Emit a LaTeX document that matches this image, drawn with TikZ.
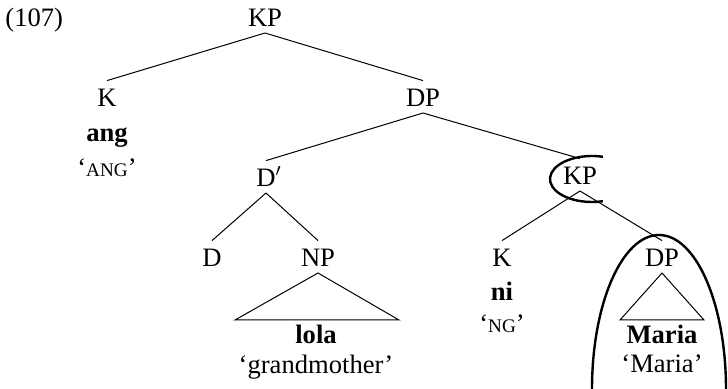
\documentclass[tikz,border=0pt]{standalone}
\usepackage{fontspec}
\setmainfont{Liberation Serif}
\newcommand{\glosscap}[1]{{\fontsize{9.6pt}{11pt}\selectfont #1}}
\tikzset{
  cat/.style={anchor=base, inner xsep=0pt, inner ysep=2.8pt, text height=10.2pt, text depth=0pt},
  word/.style={anchor=base, inner sep=0pt, font=\bfseries},
  gloss/.style={anchor=base, inner sep=0pt},
  branch/.style={line width=0.5pt},
  ring/.style={line width=1.2pt},
}
\begin{document}
\fontsize{13.3pt}{16pt}\selectfont
\begin{tikzpicture}[x=0.5pt,y=-0.5pt]
  \useasboundingbox (0,0) rectangle (728,389);
  \node[gloss, anchor=base west] (num) at (5,27) {(107)};
  % categories
  \node[cat] (kp) at (265,27) {KP};
  \node[cat] (k1) at (107,107) {K};
  \node[cat] (dp) at (423,107) {DP};
  \node[cat] (dbar) at (266,187) {D\rlap{$'$}};
  \node[cat] (kp2) at (580,185) {KP};
  \node[cat] (d) at (212,267) {D};
  \node[cat] (np) at (318,267) {NP};
  \node[cat] (k2) at (502,267) {K};
  \node[cat] (dp2) at (662,267) {DP};
  % words and glosses
  \node[word] (ang) at (107,142) {ang};
  \node[gloss] (angg) at (107,177) {`\glosscap{ANG}'};
  \node[word] (ni) at (502,301) {ni};
  \node[gloss] (nig) at (502,333) {`\glosscap{NG}'};
  \node[word] (lola) at (316,344) {lola};
  \node[gloss] (lolag) at (316,374) {`grandmother'};
  \node[word] (maria) at (662,344) {Maria};
  \node[gloss] (mariag) at (662,373) {`Maria'};
  % branches
  \draw[branch] (kp.south) -- (k1.north);
  \draw[branch] (kp.south) -- (dp.north);
  \draw[branch] (dp.south) -- (dbar.north);
  \draw[branch] (dp.south) -- (kp2.north);
  \draw[branch] (dbar.south) -- (d.north);
  \draw[branch] (dbar.south) -- (np.north);
  \draw[branch] (kp2.south) -- (k2.north);
  \draw[branch] (kp2.south) -- (dp2.north);
  % triangles
  \coordinate (npl) at (235,320);
  \coordinate (npr) at (399,320);
  \draw[branch] (np.south) -- (npl) -- (npr) -- cycle;
  \coordinate (dpl) at (620,320);
  \coordinate (dpr) at (704,320);
  \draw[branch] (dp2.south) -- (dpl) -- (dpr) -- cycle;
  % rings
  \coordinate (kpring) at (592,179);
  \draw[ring] (kpring) ++(285:42 and 23) arc[start angle=285, end angle=75, x radius=42, y radius=23];
  \coordinate (dpring) at (659,389);
  \draw[ring] (dpring) ++(-67,0) arc[start angle=180, end angle=360, x radius=67, y radius=154];
\end{tikzpicture}
\end{document}
